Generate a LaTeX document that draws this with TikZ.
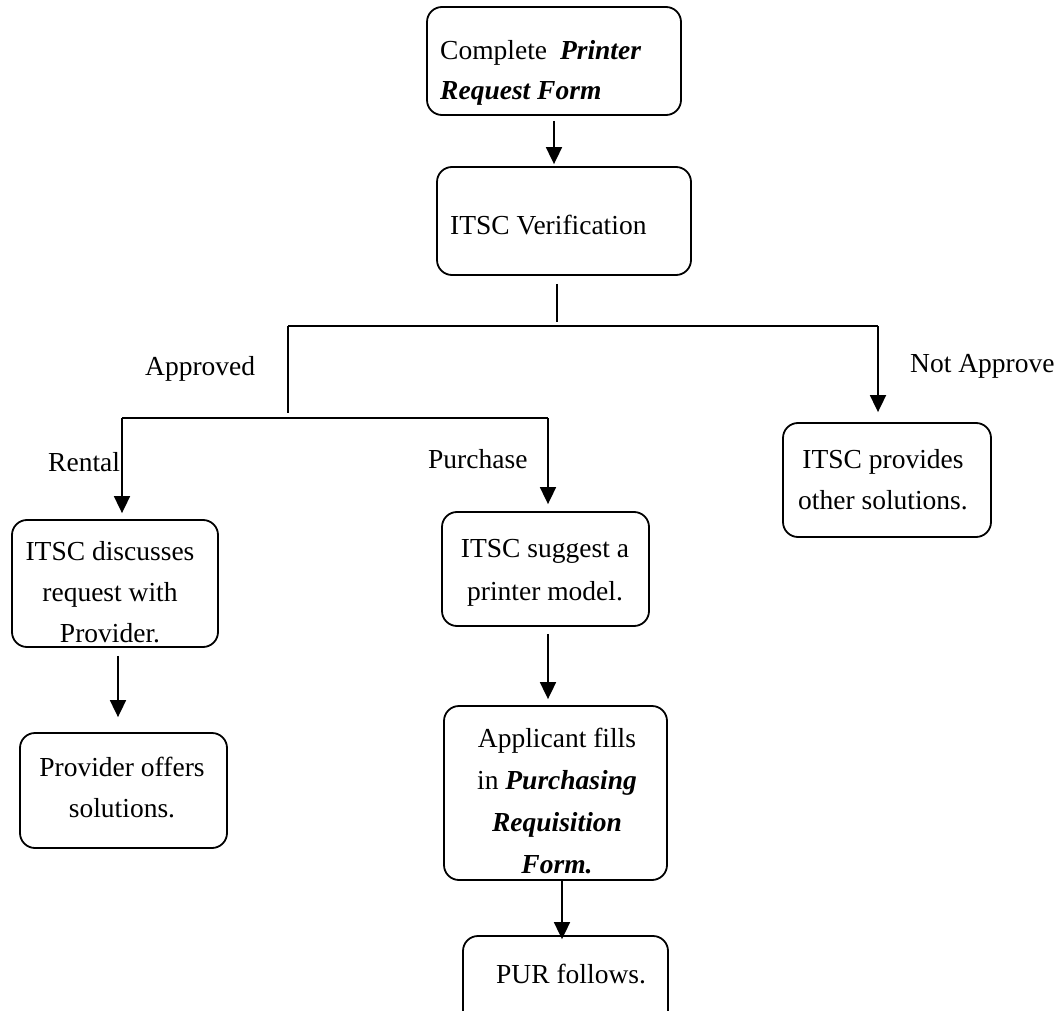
\documentclass[tikz,border=0pt]{standalone}
\usepackage{fontspec}
\setmainfont{Liberation Serif}
\usetikzlibrary{arrows.meta}
\newcommand{\bfit}[1]{\textbf{\textit{#1}}}
\begin{document}
\begin{tikzpicture}[x=1pt,y=-1pt,
  box/.style={draw, line width=1.8pt, rounded corners=15pt, inner sep=0pt},
  txt/.style={inner sep=0pt, font=\fontsize{27.5pt}{41pt}\selectfont},
  ln/.style={line width=1.8pt},
  arr/.style={line width=1.8pt, -{Triangle[width=16pt,length=17pt]}}]
\clip (0,0) rectangle (1058,1011);

% boxes
\node[box, minimum width=254pt, minimum height=108pt] (b1) at (554,61) {};
\node[box, minimum width=254pt, minimum height=108pt] (b2) at (564,221) {};
\node[box, minimum width=208pt, minimum height=114pt] (bno) at (887,480) {};
\node[box, minimum width=206pt, minimum height=127pt] (brent) at (115,583.5) {};
\node[box, minimum width=207pt, minimum height=115pt] (bprov) at (123.5,790.5) {};
\node[box, minimum width=207pt, minimum height=114pt] (bpur) at (545.5,569) {};
\node[box, minimum width=223pt, minimum height=174pt] (bapp) at (555.5,793) {};
\node[box, minimum width=205pt, minimum height=94pt] (bfin) at (565.5,983) {};

% texts (multi-line nodes: base anchor = baseline of last line)
\node[txt, anchor=base west, align=left, font=\fontsize{27.5pt}{40pt}\selectfont] (t1) at (440,100)
  {Complete\hspace{6pt} \bfit{Printer}\\\bfit{Request Form}};
\node[txt, anchor=base west] (t2) at (450,235) {ITSC Verification};
\node[txt, anchor=base west] (lap) at (145,375) {Approved};
\node[txt, anchor=base west] (lre) at (48,471) {Rental};
\node[txt, anchor=base west] (lpu) at (428,468) {Purchase};
\node[txt, anchor=base west] (lno) at (910,372) {Not Approve};
\node[txt, anchor=base, align=center, font=\fontsize{27.5pt}{41pt}\selectfont] (trent) at (110,642)
  {ITSC discusses\\request with\\Provider.};
\node[txt, anchor=base, align=center] (tprov) at (122,817) {Provider offers\\solutions.};
\node[txt, anchor=base, align=center, font=\fontsize{27.5pt}{43pt}\selectfont] (tpur) at (545,600)
  {ITSC suggest a\\printer model.};
\node[txt, anchor=base, align=center] (tno) at (883,509) {ITSC provides\\other solutions.};
\node[txt, anchor=base, align=center, font=\fontsize{27.5pt}{42pt}\selectfont] (tapp) at (557,873)
  {Applicant fills\\in \bfit{Purchasing}\\\bfit{Requisition}\\\bfit{Form.}};
\node[txt, anchor=base west] (tfin) at (496,983) {PUR follows.};

% junction points
\coordinate (jm) at (557,326);
\coordinate (jL) at (288,326);
\coordinate (jR) at (878,326);
\coordinate (jA) at (288,413);
\coordinate (kL) at (122,418);
\coordinate (kR) at (548,418);
\coordinate (r1) at (118,0);
\coordinate (p1) at (548,0);
\coordinate (p2) at (562,0);

% connectors
\draw[arr, shorten <=5pt, shorten >=2pt] (b1.south) -- (b1.south |- b2.north);
\draw[ln] ([yshift=-8pt]b2.south -| jm) -- ([yshift=4pt]jm);
\draw[ln] (jL) -- (jR);
\draw[ln] (jL) -- (jA);
\draw[ln] (kL) -- (kR);
\draw[arr, shorten >=10pt] (jR) -- (jR |- bno.north);
\draw[arr, shorten >=6pt] (kL) -- (kL |- brent.north);
\draw[arr, shorten >=7pt] (kR) -- (kR |- bpur.north);
\draw[arr, shorten <=8pt, shorten >=15pt] (brent.south -| r1) -- (bprov.north -| r1);
\draw[arr, shorten <=7pt, shorten >=6pt] (bpur.south -| p1) -- (bapp.north -| p1);
\draw[arr, shorten >=-4pt] (bapp.south -| p2) -- (bfin.north -| p2);
\end{tikzpicture}
\end{document}
